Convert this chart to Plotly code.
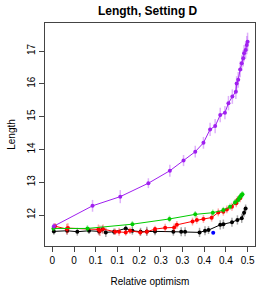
import plotly.graph_objects as go

# ---- data ----
tick_vals = [0.0, 0.0556, 0.1111, 0.1667, 0.2222, 0.2778, 0.3333, 0.3889, 0.4444, 0.5]
tick_text = ["0", "0", "0.1", "0.1", "0.2", "0.3", "0.3", "0.4", "0.4", "0.5"]
y_tick_vals = [12, 13, 14, 15, 16, 17]

purple_x = [0.004, 0.103, 0.174, 0.246, 0.301, 0.336, 0.366, 0.387, 0.404, 0.417, 0.430, 0.442,
            0.451, 0.461, 0.470, 0.472, 0.476, 0.481, 0.485, 0.489, 0.491, 0.495, 0.498, 0.500]
purple_y = [11.66, 12.28, 12.56, 12.97, 13.35, 13.66, 13.93, 14.20, 14.61, 14.71, 15.05, 15.12,
            15.41, 15.61, 15.76, 16.01, 16.12, 16.44, 16.63, 16.78, 16.93, 17.03, 17.18, 17.28]
purple_err = [0.10, 0.18, 0.20, 0.15, 0.18, 0.17, 0.18, 0.18, 0.20, 0.22, 0.22, 0.20,
              0.22, 0.22, 0.22, 0.22, 0.24, 0.24, 0.24, 0.25, 0.25, 0.26, 0.28, 0.28]

black_x = [0.004, 0.038, 0.064, 0.094, 0.120, 0.128, 0.137, 0.158, 0.188, 0.205, 0.226, 0.242,
           0.263, 0.310, 0.330, 0.340, 0.377, 0.391, 0.400, 0.430, 0.438, 0.460, 0.474, 0.485,
           0.491, 0.495]
black_y = [11.50, 11.52, 11.49, 11.52, 11.50, 11.56, 11.47, 11.49, 11.59, 11.52, 11.49, 11.50,
           11.50, 11.49, 11.49, 11.49, 11.47, 11.52, 11.54, 11.70, 11.72, 11.78, 11.85, 11.90,
           12.07, 12.20]
black_err = [0.10, 0.12, 0.12, 0.10, 0.12, 0.12, 0.14, 0.10, 0.10, 0.12, 0.12, 0.14,
             0.12, 0.12, 0.14, 0.14, 0.14, 0.14, 0.12, 0.14, 0.14, 0.14, 0.14, 0.14,
             0.12, 0.12]

red_x = [0.007, 0.037, 0.040, 0.118, 0.122, 0.130, 0.161, 0.171, 0.188, 0.199, 0.225, 0.242,
         0.263, 0.289, 0.312, 0.319, 0.359, 0.370, 0.387, 0.408, 0.425, 0.438, 0.447, 0.460,
         0.471, 0.474, 0.481]
red_y = [11.66, 11.57, 11.60, 11.56, 11.52, 11.57, 11.49, 11.49, 11.47, 11.52, 11.47, 11.49,
         11.57, 11.61, 11.62, 11.70, 11.80, 11.85, 11.88, 11.92, 12.08, 12.10, 12.17, 12.25,
         12.36, 12.46, 12.51]
red_err = [0.10, 0.16, 0.15, 0.15, 0.16, 0.14, 0.10, 0.12, 0.10, 0.10, 0.10, 0.10,
           0.10, 0.12, 0.12, 0.12, 0.12, 0.12, 0.12, 0.12, 0.12, 0.12, 0.12, 0.12,
           0.12, 0.12, 0.12]

green_x = [0.003, 0.090, 0.205, 0.300, 0.366, 0.411, 0.438, 0.455, 0.468, 0.476, 0.478, 0.481,
           0.483, 0.485, 0.487]
green_y = [11.59, 11.59, 11.72, 11.88, 12.02, 12.07, 12.15, 12.25, 12.39, 12.46, 12.50, 12.56,
           12.58, 12.61, 12.63]
green_err = [0.08, 0.10, 0.10, 0.10, 0.10, 0.10, 0.10, 0.10, 0.10, 0.10, 0.10, 0.10,
             0.10, 0.10, 0.10]

blue_x = [0.412]
blue_y = [11.46]

FONT = "Liberation Sans, Arial, sans-serif"


def series(x, y, err, color, ecolor, mode="lines+markers"):
    return go.Scatter(
        x=x, y=y, mode=mode,
        line=dict(color=color, width=1),
        marker=dict(color=color, size=4, symbol="circle"),
        error_y=dict(type="data", array=err, visible=True, color=ecolor,
                     thickness=1.5, width=0) if err is not None else None,
        showlegend=False, hoverinfo="skip",
    )


fig = go.Figure()
fig.add_trace(series(black_x, black_y, black_err, "#000000", "rgba(0,0,0,0.35)"))
fig.add_trace(series(red_x, red_y, red_err, "#FF0000", "rgba(255,0,0,0.35)"))
fig.add_trace(series(green_x, green_y, green_err, "#00CC00", "rgba(0,204,0,0.35)"))
fig.add_trace(series(purple_x, purple_y, purple_err, "#A020F0", "rgba(160,32,240,0.35)"))
fig.add_trace(series(blue_x, blue_y, None, "#0000FF", None, mode="markers"))

fig.update_layout(
    width=266, height=292,
    margin=dict(l=45, r=11, t=23, b=46, autoexpand=False),
    plot_bgcolor="white", paper_bgcolor="white",
    font=dict(family=FONT, size=10, color="#000000"),
    title=dict(text="<b>Length, Setting D</b>", x=0.555, xanchor="center",
               y=0.962, yanchor="middle", font=dict(size=12, family=FONT)),
    xaxis=dict(range=[-0.0187, 0.519], tickvals=tick_vals, ticktext=tick_text,
               ticks="outside", ticklen=5, tickcolor="#444", tickwidth=1,
               showline=True, linecolor="#444", linewidth=1, mirror=True,
               showgrid=False, zeroline=False, automargin=False,
               title=dict(text="Relative optimism", standoff=12, font=dict(size=10)),
               tickfont=dict(size=10)),
    yaxis=dict(range=[11.055, 17.854], tickvals=y_tick_vals,
               ticks="outside", ticklen=5, tickcolor="#444", tickwidth=1,
               tickangle=-90, automargin=False,
               showline=True, linecolor="#444", linewidth=1, mirror=True,
               showgrid=False, zeroline=False,
               title=dict(text="Length", standoff=8, font=dict(size=10)),
               tickfont=dict(size=10)),
)

fig.write_html("out.html",
               config={"displayModeBar": False, "staticPlot": True},
               post_script="document.body.style.margin='0';document.body.style.overflow='hidden';")
